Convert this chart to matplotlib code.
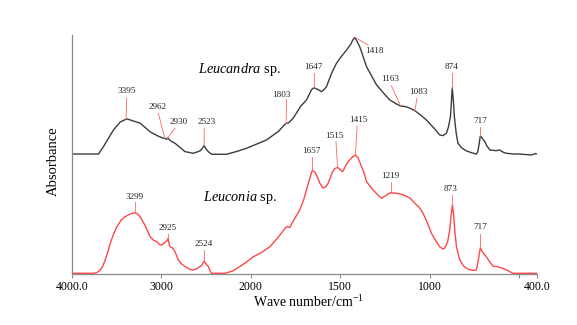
import numpy as np
import matplotlib
matplotlib.use("Agg")
import matplotlib.pyplot as plt

plt.rcParams['font.family'] = ['Liberation Serif', 'DejaVu Serif']
plt.rcParams['mathtext.fontset'] = 'custom'
plt.rcParams['mathtext.rm'] = 'Liberation Serif'
plt.rcParams['mathtext.it'] = 'Liberation Serif:italic'

# ---------------- data ----------------
leucandra_wn = [4000, 3703, 3648, 3536, 3461, 3387, 3238, 3127, 3037, 2978, 2962, 2945, 2930, 2900,
                2848, 2736, 2643, 2569, 2540, 2523, 2500, 2476, 2439, 2271, 2156, 2048, 1912, 1844,
                1810, 1800, 1790, 1764, 1720, 1689, 1660, 1647, 1630, 1605, 1590, 1577, 1548, 1521,
                1492, 1465, 1441, 1430, 1418, 1405, 1391, 1353, 1297, 1258, 1223, 1190, 1163, 1140,
                1121, 1100, 1083, 1050, 1018, 977, 944, 925, 907, 895, 884, 878, 874, 868, 862, 852,
                842, 820, 795, 760, 739, 732, 726, 717, 710, 700, 692, 680, 664, 640, 627, 609, 590,
                571, 530, 497, 432, 410, 400]
leucandra_abs = [0.502, 0.502, 0.533, 0.603, 0.636, 0.649, 0.631, 0.595, 0.577, 0.568, 0.567, 0.564,
                 0.569, 0.558, 0.547, 0.512, 0.505, 0.515, 0.527, 0.537, 0.523, 0.512, 0.501, 0.501,
                 0.513, 0.526, 0.561, 0.598, 0.626, 0.631, 0.632, 0.651, 0.703, 0.728, 0.772, 0.779,
                 0.774, 0.763, 0.772, 0.784, 0.841, 0.882, 0.912, 0.937, 0.962, 0.979, 0.990, 0.971,
                 0.951, 0.867, 0.791, 0.757, 0.728, 0.713, 0.703, 0.701, 0.697, 0.690, 0.683, 0.665,
                 0.644, 0.611, 0.582, 0.579, 0.589, 0.615, 0.658, 0.728, 0.779, 0.728, 0.658, 0.590,
                 0.547, 0.527, 0.515, 0.506, 0.502, 0.510, 0.533, 0.577, 0.573, 0.561, 0.554, 0.536,
                 0.519, 0.517, 0.516, 0.519, 0.510, 0.505, 0.502, 0.502, 0.498, 0.504, 0.502]

leuconia_wn = [4000, 3760, 3720, 3684, 3655, 3629, 3600, 3573, 3535, 3498, 3450, 3405, 3350, 3299,
               3270, 3238, 3180, 3127, 3090, 3052, 3020, 2996, 2975, 2959, 2940, 2925, 2915, 2903,
               2870, 2848, 2811, 2780, 2736, 2680, 2643, 2600, 2569, 2545, 2524, 2505, 2476, 2455,
               2439, 2290, 2200, 2123, 2050, 1987, 1940, 1894, 1850, 1820, 1800, 1782, 1760, 1726,
               1705, 1689, 1670, 1657, 1645, 1633, 1615, 1596, 1580, 1568, 1543, 1530, 1515, 1500,
               1487, 1470, 1456, 1435, 1415, 1400, 1381, 1365, 1353, 1316, 1290, 1269, 1240, 1219,
               1180, 1148, 1110, 1083, 1060, 1037, 1015, 990, 965, 944, 925, 916, 900, 888, 880,
               873, 866, 860, 850, 832, 810, 786, 760, 739, 728, 717, 705, 683, 660, 646, 625, 609,
               590, 571, 534, 400]
leuconia_abs = [0.003, 0.003, 0.006, 0.017, 0.033, 0.059, 0.092, 0.128, 0.167, 0.198, 0.226, 0.240,
                0.251, 0.256, 0.253, 0.240, 0.201, 0.156, 0.142, 0.135, 0.123, 0.121, 0.128, 0.133,
                0.138, 0.149, 0.126, 0.114, 0.107, 0.093, 0.059, 0.044, 0.031, 0.019, 0.017, 0.023,
                0.031, 0.038, 0.054, 0.044, 0.031, 0.013, 0.003, 0.003, 0.013, 0.031, 0.050, 0.072,
                0.090, 0.114, 0.151, 0.180, 0.198, 0.195, 0.226, 0.268, 0.310, 0.351, 0.402, 0.432,
                0.429, 0.414, 0.381, 0.359, 0.366, 0.379, 0.428, 0.441, 0.446, 0.437, 0.428, 0.452,
                0.470, 0.487, 0.498, 0.485, 0.449, 0.418, 0.386, 0.351, 0.331, 0.317, 0.331, 0.340,
                0.337, 0.331, 0.318, 0.296, 0.280, 0.254, 0.218, 0.170, 0.138, 0.114, 0.105, 0.108,
                0.134, 0.184, 0.247, 0.289, 0.247, 0.184, 0.113, 0.059, 0.033, 0.020, 0.015, 0.017,
                0.059, 0.110, 0.092, 0.072, 0.046, 0.033, 0.031, 0.028, 0.023, 0.017, 0.003, 0.003]

# peak labels: (label, peak wavenumber, leader top (wn, abs), text centre (wn, abs))
leucandra_peaks = [
    ("3395", 3395, (3390, 0.736), (3390, 0.767)),
    ("2962", 2962, (3034, 0.672), (3041, 0.697)),
    ("2930", 2930, (2848, 0.610), (2811, 0.635)),
    ("2523", 2523, (2521, 0.611), (2494, 0.635)),
    ("1803", 1803, (1800, 0.731), (1828, 0.749)),
    ("1647", 1647, (1647, 0.841), (1652, 0.865)),
    ("1418", 1418, (1344, 0.958), (1307, 0.933)),
    ("1163", 1163, (1214, 0.788), (1218, 0.815)),
    ("1083", 1083, (1071, 0.735), (1065, 0.763)),
    ("874", 874, (874, 0.841), (875, 0.867)),
    ("717", 717, (717, 0.615), (717, 0.640)),
]
leuconia_peaks = [
    ("3299", 3299, (3299, 0.301), (3299, 0.323)),
    ("2925", 2925, (2925, 0.167), (2925, 0.191)),
    ("2524", 2524, (2524, 0.100), (2524, 0.124)),
    ("1657", 1657, (1657, 0.490), (1661, 0.516)),
    ("1515", 1515, (1524, 0.554), (1533, 0.577)),
    ("1415", 1415, (1406, 0.619), (1397, 0.644)),
    ("1219", 1219, (1219, 0.385), (1218, 0.410)),
    ("873", 873, (873, 0.331), (882, 0.354)),
    ("717", 717, (717, 0.167), (717, 0.198)),
]

xticks = [4000, 3000, 2000, 1500, 1000, 500, 400]
xticklabels = ["4000.0", "3000", "2000", "1500", "1000", "", "400.0"]


# piecewise-linear FTIR axis (scale halves above 2000 cm-1), increasing
def fwd(w):
    w = np.asarray(w, dtype=float)
    return np.where(w >= 2000, (w - 2000) * 0.5, (w - 2000))


def inv(u):
    u = np.asarray(u, dtype=float)
    return np.where(u >= 0, 2000 + 2 * u, 2000 + u)


fig = plt.figure(figsize=(5.77, 3.25), dpi=100)
ax = fig.add_axes([72 / 577, 1 - 274 / 325, 465 / 577, 239 / 325])
ax.set_xscale('function', functions=(fwd, inv))
ax.set_xlim(4000, 400)
ax.set_ylim(0, 1)

black = '#3c3c3c'
red = '#ff4747'
lead = '#ff6666'

ax.plot(leucandra_wn, leucandra_abs, color=black, lw=1.0)
ax.plot(leuconia_wn, leuconia_abs, color=red, lw=1.0)


def add_labels(peaks, wn, ab):
    wn_r = np.asarray(wn)[::-1]
    ab_r = np.asarray(ab)[::-1]
    for lab, pw, top, txt in peaks:
        pv = np.interp(pw, wn_r, ab_r)
        ax.plot([pw, top[0]], [pv, top[1]], color=lead, lw=0.6)
        ax.text(txt[0], txt[1], lab, fontsize=6.6, ha='center', va='center', color='#222222')


add_labels(leucandra_peaks, leucandra_wn, leucandra_abs)
add_labels(leuconia_peaks, leuconia_wn, leuconia_abs)

ax.text(2123, 0.854, r'$\mathit{Leucandra}$ sp.', fontsize=10.3, ha='center', va='center')
ax.text(2123, 0.319, r'$\mathit{Leuconia}$ sp.', fontsize=10.3, ha='center', va='center')

for s in ['top', 'right']:
    ax.spines[s].set_visible(False)
for s in ['left', 'bottom']:
    ax.spines[s].set_color('#8a8a8a')
    ax.spines[s].set_linewidth(0.9)

ax.set_xticks(xticks)
ax.set_xticklabels(xticklabels)
ax.xaxis.set_minor_locator(matplotlib.ticker.NullLocator())
ax.tick_params(axis='x', direction='out', length=3, width=0.8, color='#8a8a8a',
               labelsize=8.5, pad=2)
ax.set_yticks([])

ax.set_xlabel('Wave number/cm$^{-1}$', fontsize=10)
ax.xaxis.set_label_coords(0.508, -0.083)
ax.set_ylabel('Absorbance', fontsize=10.5)
ax.yaxis.set_label_coords(-0.026, 0.47)

fig.savefig('out.png', dpi=100)
